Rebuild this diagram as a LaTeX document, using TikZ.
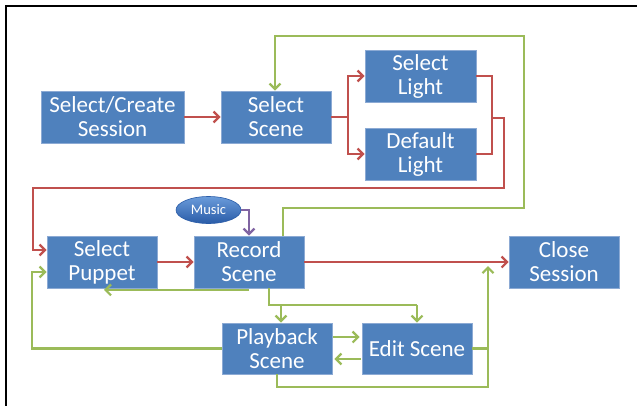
\documentclass[tikz,border=0pt]{standalone}
\usepackage{fontspec}
\setmainfont{Carlito}
\usetikzlibrary{arrows.meta,shapes.geometric}
\definecolor{boxblue}{HTML}{4F81BD}
\definecolor{boxedge}{HTML}{8CAAD4}
\definecolor{cred}{HTML}{C0504D}
\definecolor{cgreen}{HTML}{9BBB59}
\definecolor{cpurple}{HTML}{8064A2}
\definecolor{mtop}{HTML}{6A9BDA}
\definecolor{mbot}{HTML}{2A5CA8}
\tikzset{
  procbox/.style={draw=boxedge, line width=0.8pt, fill=boxblue, text=white,
    minimum width=110pt, minimum height=52pt, inner sep=0pt, align=center,
    font=\fontsize{23}{24}\selectfont},
  conn/.style={line width=2.5pt, line join=miter,
    -{Straight Barb[length=5.5pt,width=11pt,line width=2.2pt]}},
  plain/.style={line width=2.5pt, line join=miter},
  redc/.style={draw=cred},
  greenc/.style={draw=cgreen},
  purplec/.style={draw=cpurple},
}
\begin{document}
\begin{tikzpicture}[x=1pt,y=-1pt]
\useasboundingbox (0,0) rectangle (637,405);
\fill[white] (0,0) rectangle (637,405);
\draw[black, line width=2.6pt] (6,410) -- (6,6) -- (640,6);

% nodes
\node[procbox, minimum width=143pt] (scs) at (112.5,117) {Select/Create\\Session};
\node[procbox] (ss) at (276,117) {Select\\Scene};
\node[procbox, minimum width=111pt] (sl) at (420.5,76) {Select\\Light};
\node[procbox, minimum width=111pt] (dl) at (420.5,154) {Default\\Light};
\node[procbox] (sp) at (102,262) {Select\\Puppet};
\node[procbox] (rs) at (249,262) {Record\\Scene};
\node[procbox] (cs) at (564,262) {Close\\Session};
\node[procbox, minimum height=51pt] (pb) at (277,348.5) {Playback\\Scene};
\node[procbox, minimum height=51pt] (es) at (417,348.5) {Edit Scene};
\node[ellipse, draw=mbot, line width=0.6pt,
      top color=mtop, bottom color=mbot,
      minimum width=65pt, minimum height=27pt, inner sep=0pt, text=white,
      font=\fontsize{14.5}{14.5}\selectfont] (music) at (208.5,210) {Music};

% helper coordinates
\coordinate (jr) at (348,117);
\coordinate (jl) at (492,118);
\coordinate (jd) at (504,188);
\coordinate (ja) at (33,188);
\coordinate (g1) at (283,208);
\coordinate (g2) at (524,208);
\coordinate (g3) at (524,36);
\coordinate (g4) at (275,36);
\coordinate (g5) at (269,305);
\coordinate (g6) at (417,305);
\coordinate (g7) at (281,305);
\coordinate (g8) at (32,348.5);
\coordinate (g9) at (277,387);
\coordinate (g10) at (488,387);
\coordinate (g11) at (488,266);

% red connectors
\draw[conn, redc] (scs.east) -- (ss.west);
\draw[plain, redc] (ss.east) -- (jr);
\draw[conn, redc] (jr) |- (sl.west);
\draw[conn, redc] (jr) |- (dl.west);
\draw[plain, redc] (sl.east) -| (jl) |- (dl.east);
\draw[conn, redc] (jl) -| (jd) -- (ja) |- ([yshift=12pt]sp.west);
\draw[conn, redc] (sp.east) -- (rs.west);
\draw[conn, redc] (rs.east) -- (cs.west);

% purple connector
\draw[conn, purplec] (music.east) -| (rs.north);

% green connectors
\draw[conn, greenc] (rs.north -| g1) -- (g1) -- (g2) -- (g3) -- (g4) -- (ss.north -| g4);
\draw[conn, greenc] ([yshift=-1.5pt]rs.south) -- ([yshift=-1.5pt,xshift=2pt]sp.south);
\draw[plain, greenc] (rs.south -| g5) -- (g5) -- (g6);
\draw[conn, greenc] (g6) -- (es.north);
\draw[conn, greenc] (g7) -- (pb.north -| g7);
\draw[conn, greenc] ([yshift=11.5pt,xshift=1pt]pb.east) -- ([yshift=11.5pt,xshift=-2pt]es.west);
\draw[conn, greenc] ([yshift=-10.5pt,xshift=-1pt]es.west) -- ([yshift=-10.5pt,xshift=2pt]pb.east);
\draw[conn, greenc] (pb.west) -- (g8) |- ([yshift=-10pt]sp.west);
\draw[conn, greenc] (pb.south) -- (g9) -- (g10) -- (g11);
\draw[plain, greenc] (es.east) -- (es.east -| g10);
\end{tikzpicture}
\end{document}
